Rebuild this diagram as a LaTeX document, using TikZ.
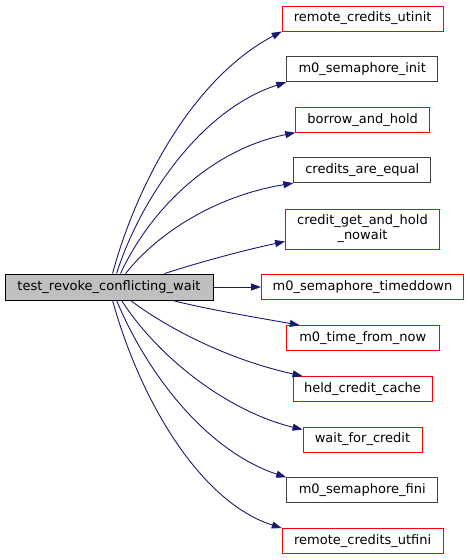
\documentclass[tikz,border=0pt]{standalone}
\usepackage{fontspec}
\setmainfont{DejaVu Sans}
\usetikzlibrary{arrows.meta, calc}

\definecolor{edgeblue}{RGB}{25,25,112}
\definecolor{fnred}{RGB}{255,0,0}
\definecolor{fngray}{RGB}{64,64,64}
\definecolor{mainfill}{RGB}{191,191,191}

\tikzset{
  fn/.style={draw, rectangle, inner sep=0pt, minimum height=25pt, line width=0.9pt,
    font=\fontsize{13}{15}\selectfont, align=center},
  fnlink/.style={fn, draw=fnred},
  fnplain/.style={fn, draw=fngray},
  call/.style={draw=edgeblue, line width=0.9pt,
    -{Triangle[length=10pt, width=7pt, fill=edgeblue]}}
}

\begin{document}
\begin{tikzpicture}[x=1pt, y=-1pt]
  \useasboundingbox (0,0) rectangle (469,560);
  % caller
  \node[fn, draw=black, fill=mainfill, minimum width=208pt, minimum height=26pt] (main) at (109,287) {test\_revoke\_conflicting\_wait};
  % callees
  \node[fnlink,  minimum width=161pt] (utinit)  at (362.7,18.5)  {remote\_credits\_utinit};
  \node[fnplain, minimum width=151pt] (seminit) at (362.2,69.2)  {m0\_semaphore\_init};
  \node[fnlink,  minimum width=134pt] (borrow)  at (362.7,119.7) {borrow\_and\_hold};
  \node[fnplain, minimum width=137pt] (equal)   at (362.3,170.2) {credits\_are\_equal};
  \node[fnlink,  minimum width=154pt, minimum height=40pt] (getnow) at (362.5,229) {credit\_get\_and\_hold\\\_nowait};
  \node[fnlink,  minimum width=202pt] (timed)   at (362.5,287)   {m0\_semaphore\_timeddown};
  \node[fnlink,  minimum width=153pt] (fromnow) at (362.7,338.2) {m0\_time\_from\_now};
  \node[fnlink,  minimum width=139pt] (cache)   at (362.5,389)   {held\_credit\_cache};
  \node[fnlink,  minimum width=119pt] (wait)    at (362.5,439.5) {wait\_for\_credit};
  \node[fnplain, minimum width=151pt] (semfini) at (362.2,490.3) {m0\_semaphore\_fini};
  \node[fnlink,  minimum width=161pt] (utfini)  at (362.7,541)   {remote\_credits\_utfini};
  % calls leaving the top
  \draw[call] ($(main.north west)+(108,0)$) .. controls (135,190) and (190,80) .. (utinit.south west);
  \draw[call] ($(main.north west)+(112,0)$) .. controls (140,200) and (200,110) .. (seminit.south west);
  \draw[call] ($(main.north west)+(116,0)$) .. controls (150,210) and (210,150) .. (borrow.south west);
  \draw[call] ($(main.north west)+(121,0)$) .. controls (160,230) and (220,195) .. (equal.south west);
  \draw[call] ($(main.north west)+(160,0)$) .. controls (200,262) and (245,250) .. ($(getnow.south west)+(0,-8)$);
  % straight call
  \draw[call] (main.east) -- (timed.west);
  % calls leaving the bottom
  \draw[call] ($(main.south west)+(168,0)$) .. controls (210,310) and (260,318) .. ($(fromnow.north west)+(14,0)$);
  \draw[call] ($(main.south west)+(126,0)$) .. controls (170,330) and (230,360) .. ($(cache.north west)+(10,0)$);
  \draw[call] ($(main.south west)+(117,0)$) .. controls (160,360) and (230,412) .. ($(wait.north west)+(0,3)$);
  \draw[call] ($(main.south west)+(112,0)$) .. controls (150,380) and (210,452) .. (semfini.north west);
  \draw[call] ($(main.south west)+(108,0)$) .. controls (140,400) and (200,502) .. (utfini.north west);
\end{tikzpicture}
\end{document}
